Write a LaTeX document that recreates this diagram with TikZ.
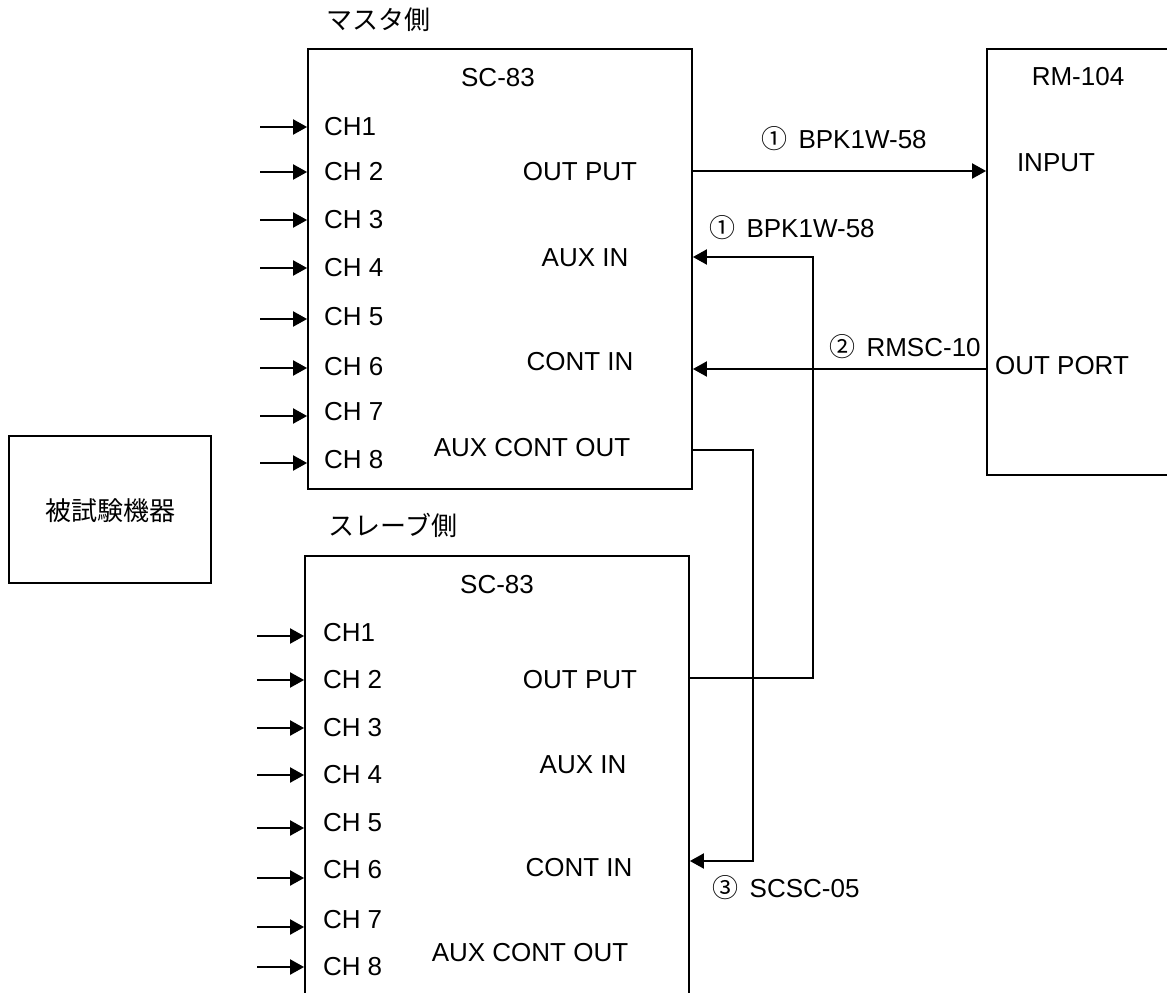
\documentclass[tikz,border=0pt]{standalone}
\usepackage{fontspec}
\setmainfont{Liberation Sans}
\newfontfamily\jp{Noto Sans CJK JP}
\usetikzlibrary{arrows.meta}
\begin{document}
\begin{tikzpicture}[x=1pt,y=-1pt,line width=2pt,
  lbl/.style={font=\fontsize{26}{30}\selectfont,inner sep=0pt},
  chl/.style={lbl,anchor=west},
  jlbl/.style={font=\jp\fontsize{26}{30}\selectfont,inner sep=0pt},
  arr/.style={-{Triangle[length=14pt,width=15pt]}},
  box/.style={draw,line width=1.8pt,rectangle,inner sep=0pt}]
\path[use as bounding box] (0,0) rectangle (1167,993);
\clip (0,0) rectangle (1167,993);

% boxes
\node[box,minimum width=384pt,minimum height=440pt] (m) at (500,269) {};
\node[box,minimum width=384pt,minimum height=454pt] (s) at (497,783) {};
\node[box,minimum width=203pt,minimum height=426pt] (rm) at (1088.5,262) {};
\node[box,minimum width=202pt,minimum height=147pt] (dut) at (110,509.5) {};
\node[jlbl] (dutl) at (110,511) {被試験機器};

% titles
\node[jlbl] (mt) at (378,20) {マスタ側};
\node[jlbl] (st) at (393,525) {スレーブ側};
\node[lbl] (msc) at (498,78) {SC-83};
\node[lbl] (ssc) at (497,585) {SC-83};
\node[lbl] (rmt) at (1078,77) {RM-104};
\node[lbl] (rin) at (1056,163) {INPUT};
\node[lbl] (rout) at (1062,366) {OUT PORT};

% master channels
\foreach \i/\t/\ya/\yl in {1/CH1/127/127,2/CH 2/172/172,3/CH 3/220/220,4/CH 4/268/268,5/CH 5/319/317,6/CH 6/368/367,7/CH 7/416/412,8/CH 8/463/460}{
  \node[chl] (mch\i) at (323,\yl) {\t};
  \coordinate (mcs\i) at (260,\ya);
  \draw[arr] (mcs\i) -- (m.west |- mcs\i);
}
% slave channels
\foreach \i/\t/\ya/\yl in {1/CH1/636/633,2/CH 2/680/680,3/CH 3/728/728,4/CH 4/775/775,5/CH 5/828/823,6/CH 6/878/870,7/CH 7/927/920,8/CH 8/967/967}{
  \node[chl] (sch\i) at (322,\yl) {\t};
  \coordinate (scs\i) at (257,\ya);
  \draw[arr] (scs\i) -- (s.west |- scs\i);
}

% master ports
\node[lbl] (mop) at (580,172) {OUT PUT};
\node[lbl] (mai) at (585,258) {AUX IN};
\node[lbl] (mci) at (580,362) {CONT IN};
\node[lbl] (mac) at (532,448) {AUX CONT OUT};
% slave ports
\node[lbl] (sop) at (580,680) {OUT PUT};
\node[lbl] (sai) at (583,765) {AUX IN};
\node[lbl] (sci) at (579,868) {CONT IN};
\node[lbl] (sac) at (530,953) {AUX CONT OUT};

% connections
\coordinate (y1) at (0,171);
\draw[arr] (m.east |- y1) -- (rm.west |- y1);
\node[lbl] (c1) at (844,139) {{\jp ①}\hspace{4pt} BPK1W-58};

\coordinate (y2) at (0,369);
\draw[arr] (rm.west |- y2) -- (m.east |- y2);
\node[lbl] (c2) at (905,347) {{\jp ②}\hspace{4pt} RMSC-10};

\coordinate (y3) at (0,678);
\coordinate (k1) at (813,678);
\coordinate (k2) at (813,257);
\draw[arr] (s.east |- y3) -- (k1) -- (k2) -- (m.east |- k2);
\node[lbl] (c3) at (792,228) {{\jp ①}\hspace{4pt} BPK1W-58};

\coordinate (y4) at (0,450);
\coordinate (k3) at (753,450);
\coordinate (k4) at (753,861);
\draw[arr] (m.east |- y4) -- (k3) -- (k4) -- (s.east |- k4);
\node[lbl] (c4) at (786,888) {{\jp ③}\hspace{4pt} SCSC-05};
\end{tikzpicture}
\end{document}
